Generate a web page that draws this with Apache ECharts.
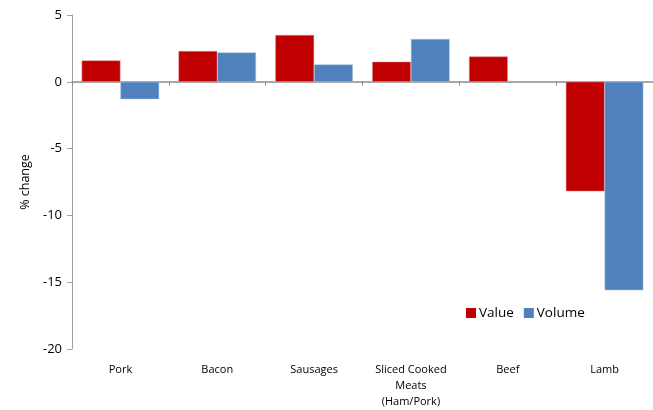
<!DOCTYPE html>
<html><head><meta charset="utf-8">
<script src="https://cdn.jsdelivr.net/npm/echarts@6/dist/echarts.min.js"></script>
<style>html,body{margin:0;padding:0;background:#fff}#c{width:653px;height:410px}</style>
</head><body><div id="c"></div>
<script>
var categories = ['Pork','Bacon','Sausages','Sliced Cooked\nMeats\n(Ham/Pork)','Beef','Lamb'];
var valueData = [1.6, 2.3, 3.5, 1.5, 1.9, -8.2];
var volumeData = [-1.3, 2.2, 1.3, 3.2, null, -15.6];
var yMin = -20, yMax = 5, yStep = 5;

var font = '"Open Sans", "Liberation Sans", sans-serif';
var chart = echarts.init(document.getElementById('c'));
chart.setOption({
  animation: false,
  textStyle: {fontFamily: font},
  grid: {left: 72, top: 15, width: 582, height: 336, containLabel: false},
  legend: {
    data: ['Value','Volume'], left: 466, top: 306, padding: 0, itemWidth: 10, itemHeight: 10, itemGap: 10,
    icon: 'rect', itemStyle: {borderWidth: 0},
    textStyle: {fontSize: 13.5, color: '#000', fontFamily: font, padding: [0, 0, 0, -2]}
  },
  xAxis: [{
    type: 'category', data: categories, position: 'bottom',
    axisLine: {show: false, onZero: false}, axisTick: {show: false},
    axisLabel: {interval: 0, fontSize: 11, color: '#000', margin: 13, lineHeight: 16}
  },{
    type: 'category', data: categories, position: 'bottom',
    axisLine: {show: true, onZero: true, lineStyle: {color: '#8c8c8c', width: 1.5}},
    axisTick: {show: true, interval: 0, length: 4, lineStyle: {color: '#8c8c8c'}},
    axisLabel: {show: false}
  }],
  yAxis: {
    type: 'value', min: yMin, max: yMax, interval: yStep,
    name: '% change', nameLocation: 'middle', nameGap: 38, nameRotate: 90,
    nameTextStyle: {fontSize: 12.5, color: '#000'},
    axisLine: {show: true, lineStyle: {color: '#a0a0a0'}},
    axisTick: {show: true, length: 5, lineStyle: {color: '#a0a0a0'}},
    axisLabel: {fontSize: 13, color: '#000', margin: 10},
    splitLine: {show: false}
  },
  series: [{
    name: 'Value', type: 'bar', data: valueData, xAxisIndex: 0,
    barGap: '0%', barCategoryGap: '20%',
    itemStyle: {color: '#C00000', borderColor: '#e08a8a', borderWidth: 0.5}
  },{
    name: 'Volume', type: 'bar', data: volumeData, xAxisIndex: 0,
    barGap: '0%', barCategoryGap: '20%',
    itemStyle: {color: '#4F81BD', borderColor: '#a8c2e0', borderWidth: 0.5}
  }]
});
</script></body></html>
